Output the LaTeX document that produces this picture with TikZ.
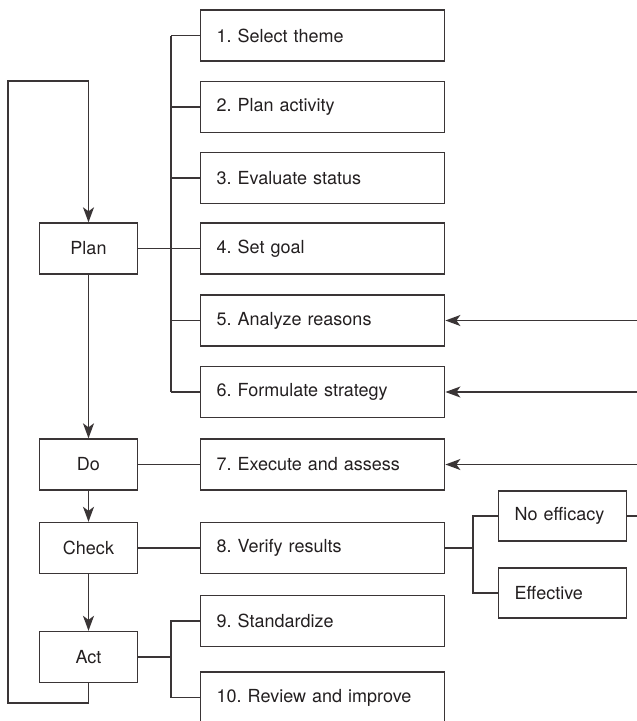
\documentclass[tikz,border=0pt]{standalone}
\usepackage{fontspec}
\setmainfont{TeX Gyre Heros}
\usepackage{tikz}
\usetikzlibrary{arrows.meta, positioning, calc}
\definecolor{inkline}{HTML}{3A3536}
\definecolor{inktext}{HTML}{231F20}
\frenchspacing

\begin{document}
\begin{tikzpicture}[x=1pt, y=-1pt,
    line width=1.4pt, draw=inkline,
    stepbox/.style={draw=inkline, rectangle, anchor=west, text=inktext,
      text width=212pt, inner xsep=16pt, minimum height=51pt, align=left,
      font=\fontsize{18}{21}\selectfont},
    phasebox/.style={draw=inkline, rectangle, text=inktext,
      minimum width=98pt, minimum height=51pt, inner sep=0pt,
      font=\fontsize{18}{21}\selectfont},
    resultbox/.style={draw=inkline, rectangle, anchor=west, text=inktext,
      text width=96pt, inner xsep=16pt, minimum height=50pt, align=left,
      font=\fontsize{18}{21}\selectfont},
    arr/.style={-{Stealth[length=15pt, width=11pt, inset=4pt]}, draw=inkline}]
  \useasboundingbox (0,0) rectangle (637,721);
  \clip (0,0) rectangle (637,721);
  % Steps on the right
  \node[stepbox] (s1) at (200,35.5) {1. Select theme};
  \node[stepbox] (s2) at (200,107) {2. Plan activity};
  \node[stepbox] (s3) at (200,178) {3. Evaluate status};
  \node[stepbox] (s4) at (200,248.5) {4. Set goal};
  \node[stepbox] (s5) at (200,320.5) {5. Analyze reasons};
  \node[stepbox] (s6) at (200,392) {6. Formulate strategy};
  \node[stepbox] (s7) at (200,464.5) {7. Execute and assess};
  \node[stepbox] (s8) at (200,548) {8. Verify results};
  \node[stepbox] (s9) at (200,621) {9. Standardize};
  \node[stepbox] (s10) at (200,697.5) {10. Review and improve};
  % PDCA phases
  \node[phasebox] (plan) at (88.5,248.5) {Plan};
  \node[phasebox] (do) at (88.5,464.5) {Do};
  \node[phasebox] (check) at (88.5,548) {Check};
  \node[phasebox] (act) at (88.5,657) {Act};
  % Results of the check
  \node[resultbox] (noeff) at (498,516) {No efficacy};
  \node[resultbox] (eff) at (498,593) {Effective};
  % Helper coordinates
  \coordinate (pb) at (171,0);
  \coordinate (rb) at (473,0);
  \coordinate (edge) at (660,0);
  \coordinate (fbl) at (8,703);
  \coordinate (fbt) at (8,81);
  % Plan branches
  \draw (plan.east) -- (s4.west);
  \foreach \i in {1,2,3,5,6}
    \draw (s\i.west) -- (s\i.west -| pb);
  \draw (s1.west -| pb) -- (s6.west -| pb);
  % Phase flow
  \draw[arr] (plan) -- (do);
  \draw[arr] (do) -- (check);
  \draw[arr] (check) -- (act);
  \draw (do.east) -- (s7.west);
  \draw (check.east) -- (s8.west);
  \draw (act.east) -- (act.east -| pb);
  \draw (s9.west) -| (pb |- act.east) |- (s10.west);
  % Check results
  \draw (s8.east) -- (s8.east -| rb);
  \draw (noeff.west) -| (rb |- s8.east) |- (eff.west);
  \draw (noeff.east) -- (noeff.east -| edge);
  % Feedback
  \draw[arr] (s5.east -| edge) -- (s5.east);
  \draw[arr] (s6.east -| edge) -- (s6.east);
  \draw[arr] (s7.east -| edge) -- (s7.east);
  \draw[arr] (act.south) |- (fbl) -- (fbt) -| (plan.north);
\end{tikzpicture}
\end{document}
